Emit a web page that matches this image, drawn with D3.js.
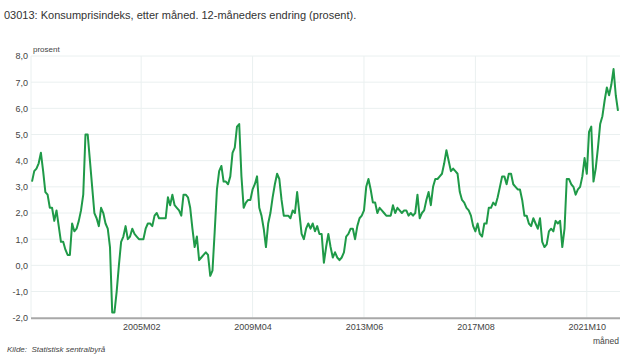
<!DOCTYPE html>
<html>
<head>
<meta charset="utf-8">
<script src="https://cdn.jsdelivr.net/npm/d3@7"></script>
<style>
  html, body { margin: 0; padding: 0; background: #fff; }
  svg { display: block; font-family: "Liberation Sans", Arial, sans-serif; }
</style>
</head>
<body>
<svg id="chart" width="638" height="363"></svg>
<script>
// ---- data ----
const title = "03013: Konsumprisindeks, etter måned. 12-måneders endring (prosent).";
const years = d3.range(2001, 2023);
const months = [];
years.forEach(y => { for (let m = 1; m <= 12; m++) months.push(y + "M" + (m < 10 ? "0" + m : m)); });

const cpi = [
  3.2, 3.6, 3.7, 3.9, 4.3, 3.6, 2.8, 2.7, 2.2, 2.2, 1.7, 2.1,   // 2001
  1.5, 0.9, 0.9, 0.6, 0.4, 0.4, 1.6, 1.3, 1.4, 1.7, 2.1, 2.7,   // 2002
  5.0, 5.0, 4.0, 3.0, 2.0, 1.8, 1.5, 2.2, 2.0, 1.6, 1.4, 0.7,   // 2003
  -1.8, -1.8, -1.0, 0.0, 0.9, 1.1, 1.5, 1.0, 1.1, 1.4, 1.2, 1.1, // 2004
  1.0, 1.0, 1.0, 1.4, 1.6, 1.6, 1.5, 1.9, 2.0, 1.8, 1.8, 1.8,   // 2005
  1.8, 2.6, 2.3, 2.7, 2.3, 2.2, 2.1, 1.9, 2.7, 2.7, 2.6, 2.2,   // 2006
  1.4, 0.7, 1.1, 0.2, 0.3, 0.4, 0.5, 0.4, -0.4, -0.2, 1.3, 2.9, // 2007
  3.6, 3.8, 3.2, 3.2, 3.1, 3.4, 4.3, 4.5, 5.3, 5.4, 3.4, 2.2,   // 2008
  2.4, 2.5, 2.5, 2.9, 3.1, 3.4, 2.2, 1.9, 1.4, 0.7, 1.6, 2.0,   // 2009
  2.6, 3.1, 3.5, 3.3, 2.5, 1.9, 1.9, 1.9, 1.8, 2.1, 2.0, 2.8,   // 2010
  2.0, 1.2, 1.0, 1.4, 1.6, 1.4, 1.6, 1.3, 1.5, 1.2, 1.2, 0.1,   // 2011
  0.7, 1.2, 0.7, 0.3, 0.5, 0.3, 0.2, 0.3, 0.5, 1.1, 1.2, 1.4,   // 2012
  1.4, 1.0, 1.5, 1.8, 1.9, 2.1, 3.0, 3.3, 2.9, 2.4, 2.4, 2.0,   // 2013
  2.2, 2.1, 2.0, 1.9, 1.9, 1.9, 2.3, 2.0, 2.2, 2.1, 2.0, 2.1,   // 2014
  2.1, 1.9, 2.0, 1.9, 2.0, 2.7, 1.8, 2.0, 2.1, 2.5, 2.8, 2.3,   // 2015
  3.0, 3.3, 3.3, 3.4, 3.5, 3.9, 4.4, 4.0, 3.6, 3.7, 3.6, 3.5,   // 2016
  2.8, 2.5, 2.4, 2.2, 2.1, 1.9, 1.5, 1.3, 1.6, 1.2, 1.1, 1.6,   // 2017
  1.6, 2.2, 2.2, 2.4, 2.3, 2.6, 3.0, 3.4, 3.4, 3.1, 3.5, 3.5,   // 2018
  3.1, 3.0, 2.9, 2.9, 2.5, 1.9, 1.9, 1.6, 1.5, 1.8, 1.6, 1.4,   // 2019
  1.8, 0.9, 0.7, 0.8, 1.3, 1.4, 1.3, 1.7, 1.6, 1.7, 0.7, 1.4,   // 2020
  3.3, 3.3, 3.1, 3.0, 2.7, 2.9, 3.0, 3.4, 4.1, 3.5, 5.1, 5.3,   // 2021
  3.2, 3.7, 4.5, 5.4, 5.7, 6.3, 6.8, 6.5, 6.9, 7.5, 6.5, 5.9    // 2022
];
const xTickLabels = ["2005M02", "2009M04", "2013M06", "2017M08", "2021M10"];
const yTicks = [-2, -1, 0, 1, 2, 3, 4, 5, 6, 7, 8];
const yLabel = "prosent";
const xLabel = "måned";
const source = "Kilde:  Statistisk sentralbyrå";

// ---- layout ----
const svg = d3.select("#chart");
const plotLeft = 31, plotRight = 620, plotTop = 56, plotBottom = 317.7;

const x = d3.scalePoint().domain(months).range([32, 618]);
const y = d3.scaleLinear().domain([-2, 8]).range([plotBottom, plotTop]);

// title
svg.append("text").attr("x", 4).attr("y", 19)
  .attr("font-size", 11).attr("fill", "#333").text(title);

// horizontal grid
svg.append("g").selectAll("line").data(yTicks.filter(d => d > -2)).join("line")
  .attr("x1", plotLeft).attr("x2", plotRight)
  .attr("y1", d => y(d)).attr("y2", d => y(d))
  .attr("stroke", "#eaf0f0").attr("stroke-width", 1);

// vertical grid (left edge + ticks)
svg.append("line").attr("x1", plotLeft).attr("x2", plotLeft)
  .attr("y1", plotTop).attr("y2", plotBottom).attr("stroke", "#eaf0f0");
svg.append("g").selectAll("line").data(xTickLabels).join("line")
  .attr("x1", d => x(d)).attr("x2", d => x(d))
  .attr("y1", plotTop).attr("y2", plotBottom)
  .attr("stroke", "#eaf0f0").attr("stroke-width", 1);

// y axis labels
const yAxis = d3.axisLeft(y).tickValues(yTicks).tickSize(0).tickPadding(0)
  .tickFormat(d => d3.format(".1f")(d).replace(".", ",").replace("−", "-"));
const gy = svg.append("g").attr("transform", `translate(28,0)`).call(yAxis);
gy.select(".domain").remove();
gy.selectAll("text").attr("font-size", 9).attr("fill", "#444")
  .attr("font-family", "'Liberation Sans', Arial, sans-serif");

// y label
svg.append("text").attr("x", 33).attr("y", 51.5)
  .attr("font-size", 8).attr("fill", "#444").text(yLabel);

// line
const line = d3.line().x((d, i) => x(months[i])).y(d => y(d));
svg.append("path").datum(cpi).attr("d", line)
  .attr("fill", "none").attr("stroke", "#1f9a48").attr("stroke-width", 2)
  .attr("stroke-linejoin", "round");

// x axis
const xAxis = d3.axisBottom(x).tickValues(xTickLabels).tickSize(0).tickPadding(6);
const gx = svg.append("g").attr("transform", `translate(0,${plotBottom})`).call(xAxis);
gx.select(".domain").remove();
gx.selectAll("text").attr("font-size", 9).attr("fill", "#444")
  .attr("font-family", "'Liberation Sans', Arial, sans-serif");
svg.append("line").attr("x1", plotLeft).attr("x2", plotRight)
  .attr("y1", plotBottom + 0.5).attr("y2", plotBottom + 0.5)
  .attr("stroke", "#a8a8a8").attr("stroke-width", 2);

// x label
svg.append("text").attr("x", 619).attr("y", 344).attr("text-anchor", "end")
  .attr("font-size", 8.5).attr("fill", "#444").text(xLabel);

// source
svg.append("text").attr("x", 7).attr("y", 352)
  .attr("font-size", 8).attr("font-style", "italic").attr("fill", "#444")
  .attr("xml:space", "preserve").style("white-space", "pre").text(source);
</script>
</body>
</html>
